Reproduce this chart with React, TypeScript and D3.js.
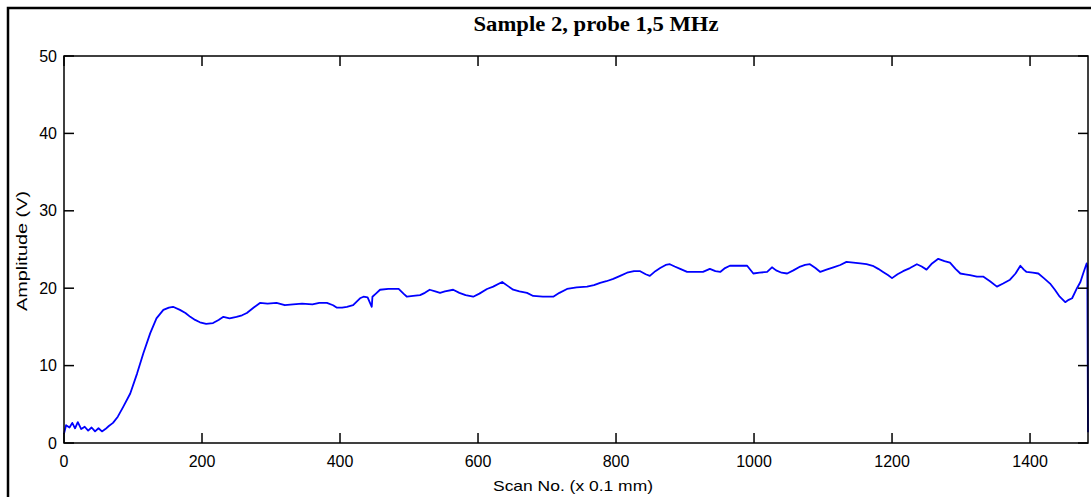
import { useEffect, useRef } from "react";
import * as d3 from "d3";

const scanNo = [
  0, 3, 8, 12, 16, 20, 25, 30, 35, 40, 45, 50, 55, 60, 65, 71, 78, 86, 96, 106,
  115, 125, 134, 144, 152, 158, 168, 176, 183, 190, 197, 206, 216, 224, 231, 240,
  250, 258, 265, 275, 284, 295, 308, 320, 332, 345, 360, 370, 381, 390, 395, 403,
  410, 419, 429, 434, 440, 446, 447, 452, 458, 470, 485, 492, 497, 506, 516, 523,
  530, 538, 545, 552, 564, 573, 582, 593, 602, 613, 622, 635, 643, 651, 660, 671,
  680, 694, 709, 718, 729, 743, 758, 768, 777, 786, 796, 806, 816, 826, 835, 843,
  849, 857, 864, 872, 878, 885, 893, 903, 915, 926, 936, 944, 951, 958, 965, 978,
  990, 999, 1008, 1019, 1026, 1032, 1040, 1048, 1057, 1067, 1074, 1081, 1089, 1096,
  1105, 1115, 1125, 1134, 1144, 1154, 1163, 1172, 1180, 1187, 1194, 1200, 1208,
  1216, 1226, 1236, 1243, 1250, 1258, 1267, 1276, 1284, 1292, 1299, 1306, 1313,
  1323, 1332, 1342, 1352, 1361, 1371, 1379, 1386, 1391, 1395, 1404, 1412, 1420,
  1429, 1436, 1443, 1451, 1456, 1461, 1468, 1473, 1477, 1482, 1483, 1484,
];

const amplitude = [
  1.2, 2.3, 2.0, 2.6, 1.9, 2.7, 1.8, 2.1, 1.6, 2.0, 1.5, 1.9, 1.5, 1.8, 2.2, 2.6, 3.4, 4.7, 6.4, 9.0,
  11.6, 14.2, 16.1, 17.2, 17.5, 17.6, 17.2, 16.8, 16.3, 15.9, 15.6, 15.4, 15.5, 15.9, 16.3, 16.1,
  16.3, 16.5, 16.8, 17.5, 18.1, 18.0, 18.1, 17.8, 17.9, 18.0, 17.9, 18.1, 18.1, 17.8, 17.5, 17.5,
  17.6, 17.8, 18.7, 18.9, 18.8, 17.6, 18.9, 19.3, 19.8, 19.9, 19.9, 19.3, 18.9, 19.0, 19.1, 19.4,
  19.8, 19.6, 19.4, 19.6, 19.8, 19.4, 19.1, 18.9, 19.3, 19.9, 20.2, 20.8, 20.3, 19.8, 19.6, 19.4,
  19.0, 18.9, 18.9, 19.4, 19.9, 20.1, 20.2, 20.4, 20.7, 20.9, 21.2, 21.6, 22.0, 22.2, 22.2, 21.8,
  21.6, 22.2, 22.6, 23.0, 23.1, 22.8, 22.5, 22.1, 22.1, 22.1, 22.5, 22.2, 22.1, 22.6, 22.9, 22.9,
  22.9, 21.9, 22.0, 22.1, 22.7, 22.3, 22.0, 21.9, 22.3, 22.8, 23.0, 23.1, 22.6, 22.1,
  22.4, 22.7, 23.0, 23.4, 23.3, 23.2, 23.1, 22.9, 22.5, 22.1, 21.7, 21.3, 21.8,
  22.2, 22.6, 23.1, 22.8, 22.4, 23.2, 23.8, 23.5, 23.3, 22.5, 21.9, 21.8, 21.7,
  21.5, 21.5, 20.9, 20.2, 20.6, 21.1, 21.9, 22.9, 22.4, 22.1, 22.0, 21.9, 21.3,
  20.6, 19.8, 18.9, 18.2, 18.5, 18.7, 20.0, 20.8, 21.9, 23.2, 22.8, 1.4,
];

const xTicks = [0, 200, 400, 600, 800, 1000, 1200, 1400];
const yTicks = [0, 10, 20, 30, 40, 50];

const title = "Sample 2, probe 1,5 MHz";
const xLabel = "Scan No. (x 0.1 mm)";
const yLabel = "Amplitude (V)";

const App = () => {
  const svgRef = useRef<SVGSVGElement>(null);

  useEffect(() => {
    const w = 1091;
    const h = 497;
    const m = { left: 64, right: 1088, top: 56, bottom: 443 };
    const svg = d3.select(svgRef.current).attr("width", w).attr("height", h);
    svg.selectAll("*").remove();

    const x = d3.scaleLinear().domain([0, 1484]).range([m.left, m.right]);
    const y = d3.scaleLinear().domain([0, 50]).range([m.bottom, m.top]);
    const font = "'Liberation Sans', Arial, sans-serif";

    // figure frame
    svg.append("path")
      .attr("d", `M8,${h} V8 H${w}`)
      .attr("fill", "none")
      .attr("stroke", "#000")
      .attr("stroke-width", 2.5);

    // data line
    const pts = scanNo.map((s, i) => [s, amplitude[i]] as [number, number]);
    const line = d3.line<[number, number]>().x((d) => x(d[0])).y((d) => y(d[1]));
    svg.append("path")
      .datum(pts)
      .attr("d", line)
      .attr("fill", "none")
      .attr("stroke", "#0000ff")
      .attr("stroke-width", 1.8)
      .attr("stroke-linejoin", "round");

    // axes box
    svg.append("rect")
      .attr("x", m.left)
      .attr("y", m.top)
      .attr("width", m.right - m.left)
      .attr("height", m.bottom - m.top)
      .attr("fill", "none")
      .attr("stroke", "#000")
      .attr("stroke-width", 1.5);

    const tk = 10;
    const ticks = svg.append("g").attr("stroke", "#000").attr("stroke-width", 1.5);
    xTicks.forEach((t) => {
      ticks.append("line").attr("x1", x(t)).attr("x2", x(t)).attr("y1", m.bottom).attr("y2", m.bottom - tk);
      ticks.append("line").attr("x1", x(t)).attr("x2", x(t)).attr("y1", m.top).attr("y2", m.top + tk);
    });
    yTicks.forEach((t) => {
      ticks.append("line").attr("x1", m.left).attr("x2", m.left + tk).attr("y1", y(t)).attr("y2", y(t));
      ticks.append("line").attr("x1", m.right).attr("x2", m.right - tk).attr("y1", y(t)).attr("y2", y(t));
    });

    svg.append("g")
      .selectAll("text")
      .data(xTicks)
      .join("text")
      .attr("x", (d) => x(d))
      .attr("y", m.bottom + 24)
      .attr("text-anchor", "middle")
      .attr("font-family", font)
      .attr("font-size", 16)
      .text((d) => d);

    svg.append("g")
      .selectAll("text")
      .data(yTicks)
      .join("text")
      .attr("x", m.left - 7)
      .attr("y", (d) => y(d))
      .attr("dy", "0.35em")
      .attr("text-anchor", "end")
      .attr("font-family", font)
      .attr("font-size", 16)
      .text((d) => d);

    svg.append("text")
      .attr("x", 573)
      .attr("y", 491)
      .attr("text-anchor", "middle")
      .attr("font-family", font)
      .attr("font-size", 15)
      .attr("textLength", 160)
      .attr("lengthAdjust", "spacingAndGlyphs")
      .text(xLabel);

    svg.append("text")
      .attr("transform", `translate(27,251) rotate(-90)`)
      .attr("text-anchor", "middle")
      .attr("font-family", font)
      .attr("font-size", 15)
      .attr("textLength", 120)
      .attr("lengthAdjust", "spacingAndGlyphs")
      .text(yLabel);

    svg.append("text")
      .attr("x", 596)
      .attr("y", 31)
      .attr("text-anchor", "middle")
      .attr("font-family", "'Liberation Serif', 'Times New Roman', serif")
      .attr("font-weight", "bold")
      .attr("font-size", 20)
      .attr("textLength", 245)
      .attr("lengthAdjust", "spacingAndGlyphs")
      .text(title);
  }, []);

  return (
    <div>
      <svg ref={svgRef} style={{ position: "absolute", left: 0, top: 0, display: "block" }}></svg>
    </div>
  );
};

export default App;
